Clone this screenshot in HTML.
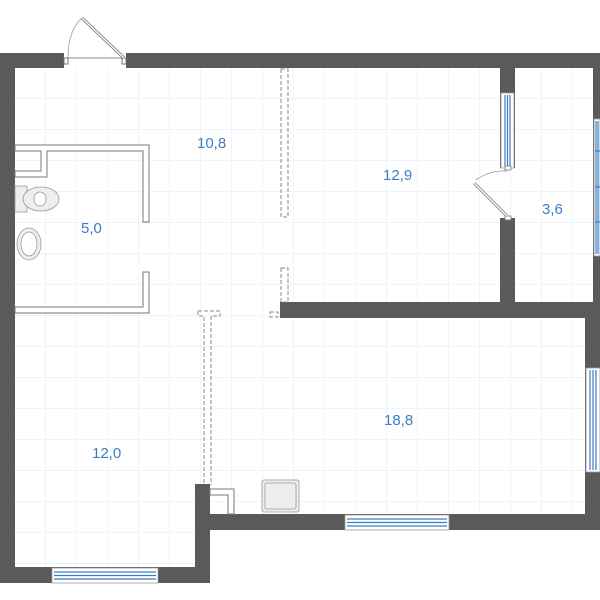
<!DOCTYPE html>
<html><head><style>body{margin:0;background:#fff}svg{display:block}text{font-family:"Liberation Sans",sans-serif;font-size:15px;fill:#3a7fc6}</style></head><body>
<svg width="600" height="600" xmlns="http://www.w3.org/2000/svg">
<defs>
<pattern id="g" x="15" y="68" width="31" height="31" patternUnits="userSpaceOnUse"><path d="M31 0V31M0 31H31" stroke="#dceaf8" stroke-width="1" fill="none"/></pattern>
<clipPath id="c"><path d="M15 68H593V303H585V514H195V568H15Z"/></clipPath>
</defs>
<rect x="15" y="68" width="580" height="500" fill="url(#g)" clip-path="url(#c)"/>
<g fill="#5a5a5a">
<rect x="0" y="53" width="64" height="15"/>
<rect x="126" y="53" width="474" height="15"/>
<rect x="0" y="53" width="15" height="530"/>
<rect x="0" y="567" width="210" height="16"/>
<rect x="195" y="484" width="15" height="99"/>
<rect x="195" y="514" width="405" height="16"/>
<rect x="593" y="53" width="7" height="250"/>
<rect x="585" y="302" width="15" height="228"/>
<rect x="280" y="302" width="320" height="16"/>
<rect x="500" y="68" width="15" height="100"/>
<rect x="500" y="218" width="15" height="85"/>
</g>
<g fill="#fff" stroke="#999" stroke-width="0.8">
<rect x="52" y="568" width="106" height="15"/>
<rect x="345" y="515" width="104" height="15"/>
<rect x="586" y="368" width="14" height="104"/>
<rect x="501" y="93" width="13" height="75"/>
<rect x="594" y="119" width="6" height="137"/>
</g>
<g stroke="#3a7fc6" stroke-width="1.2">
<path d="M54 572H156M54 575.5H156M54 579H156"/>
<path d="M347 519H447M347 522.5H447M347 526H447"/>
<path d="M590 370V470M593 370V470M596 370V470"/>
<path d="M505 95V166M507.5 95V166M510 95V166"/>
<path d="M596 121V254M598 121V254M595 151H600M595 187H600M595 222H600"/>
</g>
<path d="M66 58H124" stroke="#888" stroke-width="1"/>
<rect x="64" y="58" width="4" height="6" fill="#fff" stroke="#777"/>
<rect x="122" y="58" width="4" height="6" fill="#fff" stroke="#777"/>
<path d="M82 18L124 58" stroke="#777" stroke-width="3"/><path d="M82 18L124 58" stroke="#fff" stroke-width="1.4"/>
<path d="M68 58Q68 30 82 18" stroke="#999" fill="none" stroke-width="0.8"/>
<rect x="505" y="166" width="6" height="4" fill="#fff" stroke="#777" stroke-width="0.8"/>
<rect x="505" y="216" width="6" height="4" fill="#fff" stroke="#777" stroke-width="0.8"/>
<path d="M474 183L507 216" stroke="#777" stroke-width="3"/><path d="M474 183L507 216" stroke="#fff" stroke-width="1.4"/>
<path d="M476 180Q490 170 507 171" stroke="#999" fill="none" stroke-width="0.8"/>
<g fill="#fff" stroke="#777" stroke-width="1">
<path d="M15 145H149V222H143V151H47V177H15V171H41V151H15Z"/>
<path d="M143 272H149V313H15V307H143Z"/>
<path d="M210 489H234V514H228V495H210Z"/>
</g>
<g fill="#eee" stroke="#999" stroke-width="0.8">
<rect x="15" y="186" width="12" height="26"/>
<ellipse cx="41" cy="199" rx="18" ry="12"/>
<ellipse cx="40" cy="199" rx="6" ry="7" fill="#fff"/>
<ellipse cx="29" cy="244" rx="12" ry="16"/>
<ellipse cx="29" cy="244" rx="8" ry="12" fill="#fff"/>
<rect x="262" y="480" width="37" height="32" rx="2"/>
<rect x="265" y="483" width="31" height="26" rx="2"/>
</g>
<g fill="none" stroke="#888" stroke-width="1" stroke-dasharray="4,2">
<rect x="281" y="69" width="7" height="148"/>
<rect x="281" y="268" width="7" height="34"/>
<rect x="270" y="312" width="8" height="5"/>
<path d="M198 311H220V316H211V485M198 311V316H204V485"/>
</g>
<text x="197" y="148">10,8</text>
<text x="383" y="180">12,9</text>
<text x="542" y="214">3,6</text>
<text x="81" y="233">5,0</text>
<text x="384" y="425">18,8</text>
<text x="92" y="458">12,0</text>
</svg>
</body></html>
